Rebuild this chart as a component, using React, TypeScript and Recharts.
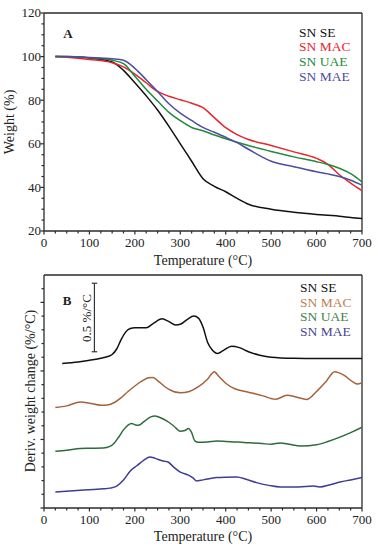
import React from 'react';
import { LineChart, Line, XAxis, YAxis, ReferenceLine, Legend } from 'recharts';

const FONT = '"Liberation Serif", "Times New Roman", serif';
const AXIS = '#2b2b2b';

// panel A - TGA weight (%)
const tgaTemp = [25, 50, 100, 150, 175, 200, 225, 250, 275, 300, 325, 350, 375, 400, 425, 450, 500, 550, 600, 625, 650, 675, 700];
const tgaSE = [100, 99.9, 99.3, 97.5, 93.7, 88, 82, 75.5, 68, 60, 52, 44, 40.5, 38, 35, 32.3, 30, 28.6, 27.6, 27.2, 26.8, 26.2, 25.7];
const tgaMAC = [100, 99.7, 98.7, 97.2, 95.3, 92, 88, 84, 81.8, 80.2, 78.6, 76.6, 72, 67.4, 64.2, 62, 59.2, 56.3, 53.3, 50.6, 45.8, 42, 38.5];
const tgaUAE = [100, 100, 99.5, 98.3, 96.8, 91, 85, 79.6, 74.4, 70.6, 67.5, 66, 64, 62.3, 60.7, 59.2, 56.5, 54, 51.8, 50.5, 48.8, 46.3, 42.5];
const tgaMAE = [100, 100, 99.6, 99, 98.3, 94.6, 89.4, 84, 78.4, 74.1, 70.7, 67.5, 65.3, 63, 60.5, 57.5, 52, 49.5, 47.2, 46.2, 45, 43.3, 41];

// panel B - DTG, curves stacked with offsets (axis units of 0.1 %/°C)
const dtgSETemp = [40, 75, 100, 125, 140, 150, 160, 170, 180, 190, 200, 225, 240, 260, 275, 290, 300, 315, 330, 340, 350, 360, 370, 382, 395, 413, 430, 450, 475, 500, 550, 600, 650, 700];
const dtgSE = [10.55, 10.65, 10.78, 10.92, 11.05, 11.2, 11.6, 12.3, 12.85, 13.1, 13.15, 13.15, 13.45, 13.8, 13.6, 13.35, 13.4, 13.75, 14.0, 13.85, 13.2, 12.1, 11.55, 11.28, 11.5, 11.8, 11.7, 11.4, 11.15, 11.0, 10.92, 10.9, 10.9, 10.9];
const dtgMACTemp = [25, 50, 80, 100, 125, 140, 155, 170, 185, 200, 215, 230, 240, 250, 262, 275, 300, 320, 340, 360, 375, 385, 400, 420, 450, 480, 510, 535, 555, 578, 600, 620, 640, 660, 680, 690, 700];
const dtgMAC = [7.33, 7.45, 7.74, 7.65, 7.5, 7.52, 7.7, 8.05, 8.5, 8.9, 9.25, 9.5, 9.52, 9.3, 8.96, 8.65, 8.4, 8.5, 8.85, 9.4, 9.95, 9.6, 9.1, 8.7, 8.45, 8.2, 7.93, 8.23, 8.1, 7.92, 8.5, 9.2, 9.95, 9.7, 9.2, 9.05, 9.15];
const dtgUAETemp = [25, 50, 80, 100, 130, 145, 155, 165, 175, 185, 193, 200, 208, 220, 235, 244, 255, 270, 285, 300, 310, 318, 325, 332, 340, 360, 380, 400, 440, 480, 500, 520, 540, 565, 600, 625, 650, 675, 700];
const dtgUAE = [4.14, 4.22, 4.34, 4.36, 4.38, 4.5, 4.75, 5.2, 5.7, 6.05, 6.16, 6.08, 6.04, 6.3, 6.65, 6.72, 6.6, 6.35, 6.0, 5.6, 5.65, 5.8, 5.5, 4.9, 4.8, 4.82, 4.89, 4.86, 4.78, 4.7, 4.65, 4.75, 4.65, 4.53, 4.62, 4.85, 5.15, 5.5, 5.9];
const dtgMAETemp = [25, 80, 130, 145, 160, 175, 190, 205, 220, 233, 245, 260, 273, 285, 300, 318, 328, 336, 345, 360, 380, 400, 424, 445, 468, 495, 520, 560, 593, 607, 630, 652, 675, 700];
const dtgMAE = [1.17, 1.3, 1.4, 1.45, 1.6, 2.05, 2.7, 3.1, 3.5, 3.73, 3.62, 3.45, 3.36, 3.0, 2.62, 2.4, 2.2, 1.97, 2.02, 2.12, 2.22, 2.25, 2.26, 2.1, 1.85, 1.65, 1.53, 1.53, 1.6, 1.53, 1.7, 1.9, 2.05, 2.22];

const seriesNames = ['SN SE', 'SN MAC', 'SN UAE', 'SN MAE'];
const colorsA = ['#111111', '#e8262d', '#228a3f', '#4d4d9e'];
const colorsB = ['#111111', '#a3623b', '#2e6b3c', '#3d3d96'];
const legendColorsB = ['#111111', '#c08050', '#3f8050', '#454595'];

const tempTicks = Array.from({ length: 29 }, (_, i) => i * 25);
const weightTicks = Array.from({ length: 21 }, (_, i) => 20 + i * 5);
const dtgTicks = Array.from({ length: 17 }, (_, i) => i);

const zip = (t: number[], v: number[]) => t.map((x, i) => ({ t: x, v: v[i] }));
const tgaData = [tgaSE, tgaMAC, tgaUAE, tgaMAE].map((v) => zip(tgaTemp, v));
const dtgData = [
  zip(dtgSETemp, dtgSE),
  zip(dtgMACTemp, dtgMAC),
  zip(dtgUAETemp, dtgUAE),
  zip(dtgMAETemp, dtgMAE),
];

const XTick = ({ x, y, payload }: any) => {
  const major = payload.value % 100 === 0;
  return (
    <g>
      <line x1={x} x2={x} y1={y} y2={y + (major ? 3.5 : 2.5)} stroke={AXIS} strokeWidth={1.2} />
      {major && (
        <text x={x} y={y + 16} textAnchor="middle" fontFamily={FONT} fontSize={13} fill="#222">
          {payload.value}
        </text>
      )}
    </g>
  );
};

const makeYTick = (majorStep: number, showLabel: boolean) => ({ x, y, payload }: any) => {
  const major = payload.value % majorStep === 0;
  return (
    <g>
      <line x1={x - (major ? 3.5 : 2.5)} x2={x} y1={y} y2={y} stroke={AXIS} strokeWidth={1.2} />
      {showLabel && major && (
        <text x={x - 3} y={y + 4.3} textAnchor="end" fontFamily={FONT} fontSize={13} fill="#222">
          {payload.value}
        </text>
      )}
    </g>
  );
};

const legendContent = (colors: string[]) => () => (
  <div style={{ fontFamily: FONT, fontSize: 13.5, lineHeight: '14.7px', whiteSpace: 'nowrap' }}>
    {seriesNames.map((n, i) => (
      <div key={n} style={{ color: colors[i] }}>{n}</div>
    ))}
  </div>
);

export default function App() {
  return (
    <div style={{ position: 'absolute', left: 0, top: 0, width: 378, height: 550, background: '#fff' }}>
      <div style={{ position: 'absolute', left: 0, top: 0 }}>
        <LineChart width={378} height={262} data={tgaData[0]} margin={{ top: 13, right: 16, left: 0, bottom: 0 }}>
          <XAxis dataKey="t" type="number" domain={[0, 700]} ticks={tempTicks} interval={0}
            tickSize={0} tickMargin={0} tickLine={false} tick={<XTick />} height={31}
            axisLine={{ stroke: AXIS, strokeWidth: 1.3 }} allowDataOverflow />
          <YAxis type="number" domain={[20, 120]} ticks={weightTicks} interval={0} width={44}
            tickSize={0} tickMargin={0} tickLine={false} tick={makeYTick(20, true)}
            axisLine={{ stroke: AXIS, strokeWidth: 1.3 }} allowDataOverflow />
          <ReferenceLine x={700} stroke={AXIS} strokeWidth={1.3} />
          <ReferenceLine y={120} stroke={AXIS} strokeWidth={1.3} />
          {tgaData.map((d, i) => (
            <Line key={seriesNames[i]} data={d} dataKey="v" name={seriesNames[i]} type="monotone"
              stroke={colorsA[i]} strokeWidth={1.5} dot={false} isAnimationActive={false} />
          ))}
          <Legend layout="horizontal" verticalAlign="middle" align="center" content={legendContent(colorsA)}
            wrapperStyle={{ top: 25.6, left: 299, width: 'auto', height: 'auto' }} />
        </LineChart>
      </div>
      <div style={{ position: 'absolute', left: 0, top: 262 }}>
        <LineChart width={378} height={288} data={dtgData[0]} margin={{ top: 13, right: 16, left: 0, bottom: 11 }}>
          <XAxis dataKey="t" type="number" domain={[0, 700]} ticks={tempTicks} interval={0}
            tickSize={0} tickMargin={0} tickLine={false} tick={<XTick />} height={31}
            axisLine={{ stroke: AXIS, strokeWidth: 1.3 }} allowDataOverflow />
          <YAxis type="number" domain={[0, 17]} ticks={dtgTicks} interval={0} width={44}
            tickSize={0} tickMargin={0} tickLine={false} tick={makeYTick(5, false)}
            axisLine={{ stroke: AXIS, strokeWidth: 1.3 }} allowDataOverflow />
          <ReferenceLine x={700} stroke={AXIS} strokeWidth={1.3} />
          <ReferenceLine y={17} stroke={AXIS} strokeWidth={1.3} />
          {/* 0.5 %/°C scale bar */}
          <ReferenceLine segment={[{ x: 111, y: 11.4 }, { x: 111, y: 16.4 }]} stroke="#333" strokeWidth={1.2} />
          <ReferenceLine segment={[{ x: 105, y: 16.4 }, { x: 117, y: 16.4 }]} stroke="#333" strokeWidth={1.2} />
          <ReferenceLine segment={[{ x: 105, y: 11.4 }, { x: 117, y: 11.4 }]} stroke="#333" strokeWidth={1.2} />
          {dtgData.map((d, i) => (
            <Line key={seriesNames[i]} data={d} dataKey="v" name={seriesNames[i]} type="monotone"
              stroke={colorsB[i]} strokeWidth={1.5} dot={false} isAnimationActive={false} />
          ))}
          <Legend layout="horizontal" verticalAlign="middle" align="center" content={legendContent(legendColorsB)}
            wrapperStyle={{ top: 19, left: 300, width: 'auto', height: 'auto' }} />
        </LineChart>
      </div>
      <svg width={378} height={550} style={{ position: 'absolute', left: 0, top: 0, pointerEvents: 'none' }}
        fontFamily={FONT} fill="#222">
        <text x={68} y={37.5} fontSize={13} fontWeight="bold" textAnchor="middle">A</text>
        <text x={67} y={304.5} fontSize={13} fontWeight="bold" textAnchor="middle">B</text>
        <text x={14} y={122} fontSize={14} textAnchor="middle" transform="rotate(-90 14 122)" dy={0}>Weight (%)</text>
        <text x={203} y={265} fontSize={14} textAnchor="middle">Temperature (°C)</text>
        <text x={35} y={391} fontSize={14} textAnchor="middle" transform="rotate(-90 35 391)">Deriv. weight change (%/°C)</text>
        <text x={203} y={541} fontSize={14} textAnchor="middle">Temperature (°C)</text>
        <text x={91} y={318} fontSize={13} textAnchor="middle" transform="rotate(-90 91 318)">0.5 %/°C</text>
      </svg>
    </div>
  );
}
